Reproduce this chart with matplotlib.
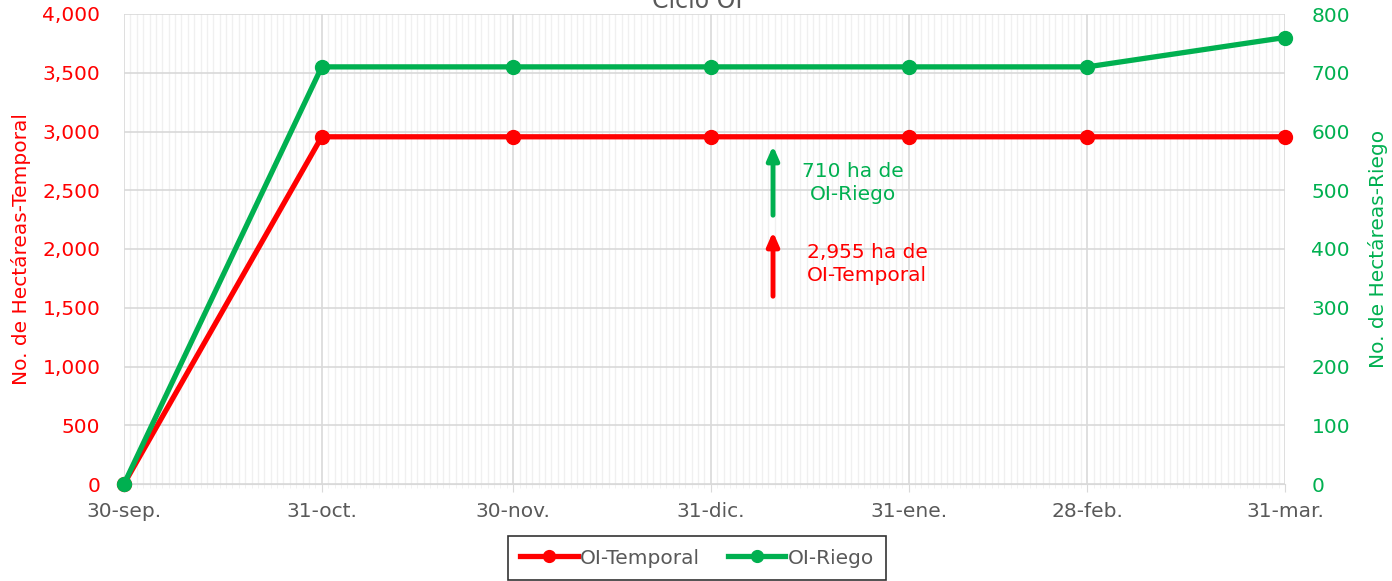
import matplotlib
matplotlib.use("Agg")
import matplotlib.pyplot as plt
import matplotlib.dates as mdates
import pandas as pd

plt.rcParams['font.family'] = ['DejaVu Sans']

fechas = pd.to_datetime(["2024-09-30", "2024-10-31", "2024-11-30", "2024-12-31",
                         "2025-01-31", "2025-02-28", "2025-03-31"])
etiquetas = ["30-sep.", "31-oct.", "30-nov.", "31-dic.", "31-ene.", "28-feb.", "31-mar."]
temporal = [0, 2955, 2955, 2955, 2955, 2955, 2955]
riego = [0, 710, 710, 710, 710, 710, 760]

rojo = "#FF0000"
verde = "#00B050"
gris = "#595959"
fs = 14.5

fig = plt.figure(figsize=(13.92, 5.81), dpi=100)
ax = fig.add_axes([124 / 1392, 1 - 484 / 581, (1285 - 124) / 1392, 470 / 581])
ax2 = ax.twinx()

# rejilla diaria y mensual
ax.set_xlim(fechas[0], fechas[-1])
ax.xaxis.set_minor_locator(mdates.DayLocator())
ax.set_xticks(fechas)
ax.set_xticklabels(etiquetas, color=gris, fontsize=fs)
ax.grid(which="minor", axis="x", color="#F0F0F0", lw=1)
ax.grid(which="major", axis="x", color="#D9D9D9", lw=1.2)
ax.grid(which="major", axis="y", color="#D9D9D9", lw=1.2)
ax.set_axisbelow(True)

ax.set_ylim(0, 4000)
ax.set_yticks(range(0, 4001, 500))
ax.set_yticklabels([f"{v:,}" for v in range(0, 4001, 500)], color=rojo, fontsize=fs)
ax2.set_ylim(0, 800)
ax2.set_yticks(range(0, 801, 100))
ax2.set_yticklabels([str(v) for v in range(0, 801, 100)], color=verde, fontsize=fs)

for a in (ax, ax2):
    for s in a.spines.values():
        s.set_visible(False)
    a.tick_params(axis="y", length=0)
ax.tick_params(axis="y", pad=17)
ax2.tick_params(axis="y", pad=19)
ax.spines["bottom"].set_visible(True)
ax.spines["bottom"].set_color("#D9D9D9")
ax.tick_params(axis="x", which="major", length=6, color="#D9D9D9", pad=7)
ax.tick_params(axis="x", which="minor", length=3, color="#F0F0F0")

l1, = ax.plot(fechas, temporal, color=rojo, lw=3.8, marker="o", ms=10, label="OI-Temporal",
              clip_on=False, zorder=3)
l2, = ax2.plot(fechas, riego, color=verde, lw=3.8, marker="o", ms=10, label="OI-Riego",
               clip_on=False, zorder=3)

ax.set_ylabel("No. de Hectáreas-Temporal", color=rojo, fontsize=fs, labelpad=8)
ax2.set_ylabel("No. de Hectáreas-Riego", color=verde, fontsize=fs, rotation=90, labelpad=13)

# anotaciones
xf = (773 - 124) / (1285 - 124)
ax.annotate("", xy=(xf, (484 - 143) / 470), xytext=(xf, (484 - 218) / 470),
            xycoords="axes fraction",
            arrowprops=dict(arrowstyle="-|>,head_length=0.8,head_width=0.35", color=verde, lw=3.5))
ax.annotate("", xy=(xf, (484 - 229) / 470), xytext=(xf, (484 - 299) / 470),
            xycoords="axes fraction",
            arrowprops=dict(arrowstyle="-|>,head_length=0.8,head_width=0.35", color=rojo, lw=3.5))
ax.text((853 - 124) / 1161, (484 - 183) / 470, "710 ha de\nOI-Riego", color=verde,
        fontsize=fs, ha="center", va="center", transform=ax.transAxes, linespacing=1.25)
ax.text((867 - 124) / 1161, (484 - 264) / 470, "2,955 ha de\nOI-Temporal", color=rojo,
        fontsize=fs, ha="center", va="center", transform=ax.transAxes, linespacing=1.25)

fig.text(697 / 1392, 1 - 1 / 581, "Ciclo OI", color=gris, fontsize=17, ha="center", va="center")

leg = fig.legend(handles=[l1, l2], loc="center", bbox_to_anchor=(697 / 1392, 1 - 558 / 581),
                 ncol=2, fontsize=fs, frameon=True, fancybox=False, edgecolor="black",
                 handlelength=2.85, columnspacing=1.4, handletextpad=0.1, borderpad=0.6,
                 borderaxespad=0, markerscale=0.85)
leg.get_frame().set_linewidth(1.2)
for t in leg.get_texts():
    t.set_color(gris)

fig.savefig("out.png", dpi=100)
